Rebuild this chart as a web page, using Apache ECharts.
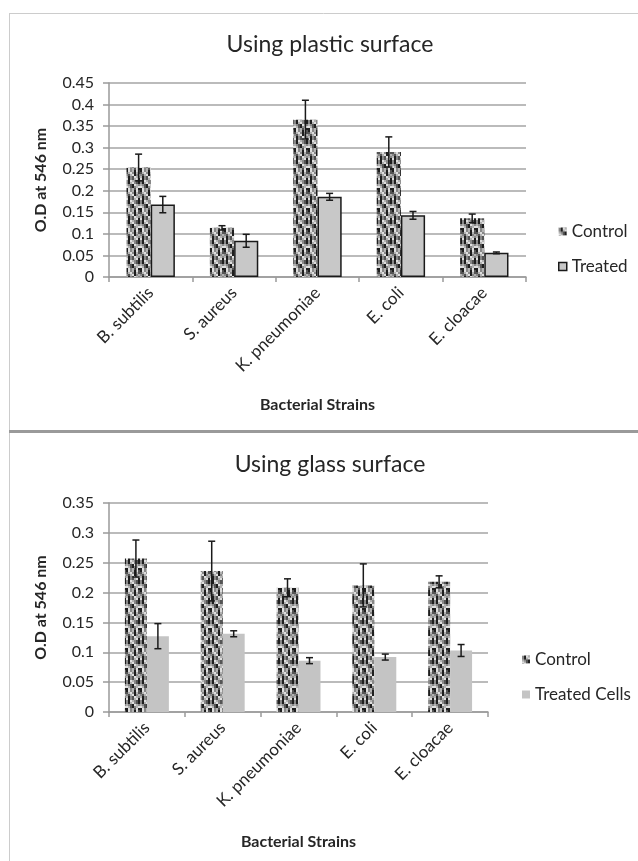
<!DOCTYPE html>
<html>
<head>
<meta charset="utf-8">
<script src="https://cdn.jsdelivr.net/npm/echarts@6/dist/echarts.min.js"></script>
<style>
  html, body { margin: 0; padding: 0; background: #fff; }
  #chart { width: 638px; height: 861px; }
</style>
</head>
<body>
<div id="chart"></div>
<script>
// Biofilm optical density (O.D at 546 nm) per bacterial strain
const categories = ['B. subtilis', 'S. aureus', 'K. pneumoniae', 'E. coli', 'E. cloacae'];

// Plastic surface
const plasticControl    = [0.254, 0.114, 0.365, 0.290, 0.136];
const plasticControlErr = [0.031, 0.005, 0.045, 0.035, 0.010];
const plasticTreated    = [0.168, 0.084, 0.186, 0.143, 0.056];
const plasticTreatedErr = [0.019, 0.015, 0.008, 0.009, 0.002];

// Glass surface
const glassControl    = [0.257, 0.236, 0.208, 0.212, 0.218];
const glassControlErr = [0.031, 0.050, 0.015, 0.036, 0.010];
const glassTreated    = [0.127, 0.131, 0.086, 0.092, 0.103];
const glassTreatedErr = [0.021, 0.005, 0.005, 0.005, 0.010];

const FONT = 'Lato, "Open Sans", sans-serif';
const TEXT = '#262626';
const GAP = 0.42; // barCategoryGap as a fraction

// Woven speckle fill tile for the control bars (2px cells)
function speckleTile() {
  const rows = [
    'mkwlmdk',
    'mklwmdk',
    'lmdkwlm',
    'wldkmlw',
    'kwmldwk',
    'kwmlkwd',
    'dlwmkld',
    'mdlwkml',
    'lkmdwlm',
    'wkmdlwk'
  ];
  const shade = { k: '#1e1e1e', d: '#545454', m: '#888888', l: '#b2b2b2', w: '#dedede' };
  const cell = 2;
  const c = document.createElement('canvas');
  c.width = rows[0].length * cell; c.height = rows.length * cell;
  const ctx = c.getContext('2d');
  rows.forEach((r, y) => {
    for (let x = 0; x < r.length; x++) {
      ctx.fillStyle = shade[r[x]];
      ctx.fillRect(x * cell, y * cell, cell, cell);
    }
  });
  return c;
}
const speckle = { image: speckleTile(), repeat: 'repeat' };

function errData(vals, errs) {
  return vals.map((v, i) => [i, v - errs[i], v + errs[i]]);
}

// Error bar drawn on top of one of the two bars in a category
function errorBars(xi, yi, data, side) {
  return {
    type: 'custom',
    xAxisIndex: xi, yAxisIndex: yi,
    z: 10,
    silent: true,
    data: data,
    renderItem: function (params, api) {
      const idx = api.value(0);
      const lo = api.coord([idx, api.value(1)]);
      const hi = api.coord([idx, api.value(2)]);
      const band = api.size([1, 0])[0];
      const barW = band * (1 - GAP) / 2;
      const x = lo[0] + side * barW / 2;
      const cap = 3.5;
      const st = { stroke: '#1a1a1a', lineWidth: 1.5 };
      return {
        type: 'group',
        children: [
          { type: 'line', shape: { x1: x, y1: hi[1], x2: x, y2: lo[1] }, style: st },
          { type: 'line', shape: { x1: x - cap, y1: hi[1], x2: x + cap, y2: hi[1] }, style: st },
          { type: 'line', shape: { x1: x - cap, y1: lo[1], x2: x + cap, y2: lo[1] }, style: st }
        ]
      };
    }
  };
}

function xAxisCfg(gi, nameGap) {
  return {
    type: 'category', gridIndex: gi, data: categories,
    name: 'Bacterial Strains', nameLocation: 'middle', nameGap: nameGap,
    nameTextStyle: { fontFamily: FONT, fontWeight: 'bold', fontSize: 16, color: TEXT },
    axisLine: { lineStyle: { color: '#9a9a9a', width: 1.5 } },
    axisTick: { show: true, length: 5, lineStyle: { color: '#9a9a9a', width: 1.5 } },
    axisLabel: { rotate: 45, fontFamily: FONT, fontSize: 17, color: TEXT, margin: 13 }
  };
}

function yAxisCfg(gi, max) {
  return {
    type: 'value', gridIndex: gi, min: 0, max: max, interval: 0.05,
    name: 'O.D at 546 nm', nameLocation: 'middle', nameGap: 60, nameRotate: 90,
    nameTextStyle: { fontFamily: FONT, fontWeight: 'bold', fontSize: 16, color: TEXT },
    axisLine: { show: true, lineStyle: { color: '#9a9a9a', width: 1.5 } },
    axisTick: { show: true, length: 6, lineStyle: { color: '#9a9a9a', width: 1.5 } },
    splitLine: { lineStyle: { color: '#a4a4a4', width: 1.5 } },
    axisLabel: { fontFamily: FONT, fontSize: 16, color: TEXT, margin: 15 }
  };
}

const chart = echarts.init(document.getElementById('chart'), null, { renderer: 'canvas' });

chart.setOption({
  animation: false,
  backgroundColor: '#fff',
  grid: [
    { left: 109, top: 83, width: 417, height: 194 },
    { left: 109, top: 503, width: 379, height: 209 }
  ],
  xAxis: [xAxisCfg(0, 120), xAxisCfg(1, 122)],
  yAxis: [yAxisCfg(0, 0.45), yAxisCfg(1, 0.35)],
  legend: [
    {
      orient: 'vertical', left: 553, top: 218, itemWidth: 8, itemHeight: 8, itemGap: 18,
      textStyle: { fontFamily: FONT, fontSize: 17, color: TEXT },
      selectedMode: false,
      data: [
        { name: 'Control', icon: 'rect', itemStyle: { color: speckle, borderWidth: 0 } },
        { name: 'Treated', icon: 'rect', itemStyle: { color: '#c8c8c8', borderColor: '#1a1a1a', borderWidth: 1.5 } }
      ]
    },
    {
      orient: 'vertical', left: 517, top: 646, itemWidth: 8, itemHeight: 8, itemGap: 18,
      textStyle: { fontFamily: FONT, fontSize: 17, color: TEXT },
      selectedMode: false,
      data: [
        { name: 'Control', icon: 'rect', itemStyle: { color: speckle, borderWidth: 0 } },
        { name: 'Treated Cells', icon: 'rect', itemStyle: { color: '#c4c4c4', borderWidth: 0 } }
      ]
    }
  ],
  series: [
    {
      name: 'Control', type: 'bar', xAxisIndex: 0, yAxisIndex: 0,
      data: plasticControl, barGap: '0%', barCategoryGap: (GAP * 100) + '%',
      itemStyle: { color: speckle }
    },
    {
      name: 'Treated', type: 'bar', xAxisIndex: 0, yAxisIndex: 0,
      data: plasticTreated, barGap: '0%', barCategoryGap: (GAP * 100) + '%',
      itemStyle: { color: '#c8c8c8', borderColor: '#1a1a1a', borderWidth: 1.5 }
    },
    errorBars(0, 0, errData(plasticControl, plasticControlErr), -1),
    errorBars(0, 0, errData(plasticTreated, plasticTreatedErr), 1),
    {
      name: 'Control', type: 'bar', xAxisIndex: 1, yAxisIndex: 1,
      data: glassControl, barGap: '0%', barCategoryGap: (GAP * 100) + '%',
      itemStyle: { color: speckle }
    },
    {
      name: 'Treated Cells', type: 'bar', xAxisIndex: 1, yAxisIndex: 1,
      data: glassTreated, barGap: '0%', barCategoryGap: (GAP * 100) + '%',
      itemStyle: { color: '#c4c4c4' }
    },
    errorBars(1, 1, errData(glassControl, glassControlErr), -1),
    errorBars(1, 1, errData(glassTreated, glassTreatedErr), 1)
  ],
  graphic: [
    // panel frames
    { type: 'line', shape: { x1: 9, y1: 13.5, x2: 638, y2: 13.5 }, style: { stroke: '#cccccc', lineWidth: 1 }, silent: true },
    { type: 'line', shape: { x1: 9.5, y1: 13, x2: 9.5, y2: 861 }, style: { stroke: '#cccccc', lineWidth: 1 }, silent: true },
    { type: 'line', shape: { x1: 9, y1: 431.5, x2: 638, y2: 431.5 }, style: { stroke: '#9a9a9a', lineWidth: 3 }, silent: true },
    // chart titles
    { type: 'text', x: 330, y: 45, silent: true,
      style: { text: 'Using plastic surface', font: '23px ' + FONT, fill: TEXT, textAlign: 'center', textVerticalAlign: 'middle' } },
    { type: 'text', x: 330, y: 465, silent: true,
      style: { text: 'Using glass surface', font: '23px ' + FONT, fill: TEXT, textAlign: 'center', textVerticalAlign: 'middle' } }
  ]
});
</script>
</body>
</html>
